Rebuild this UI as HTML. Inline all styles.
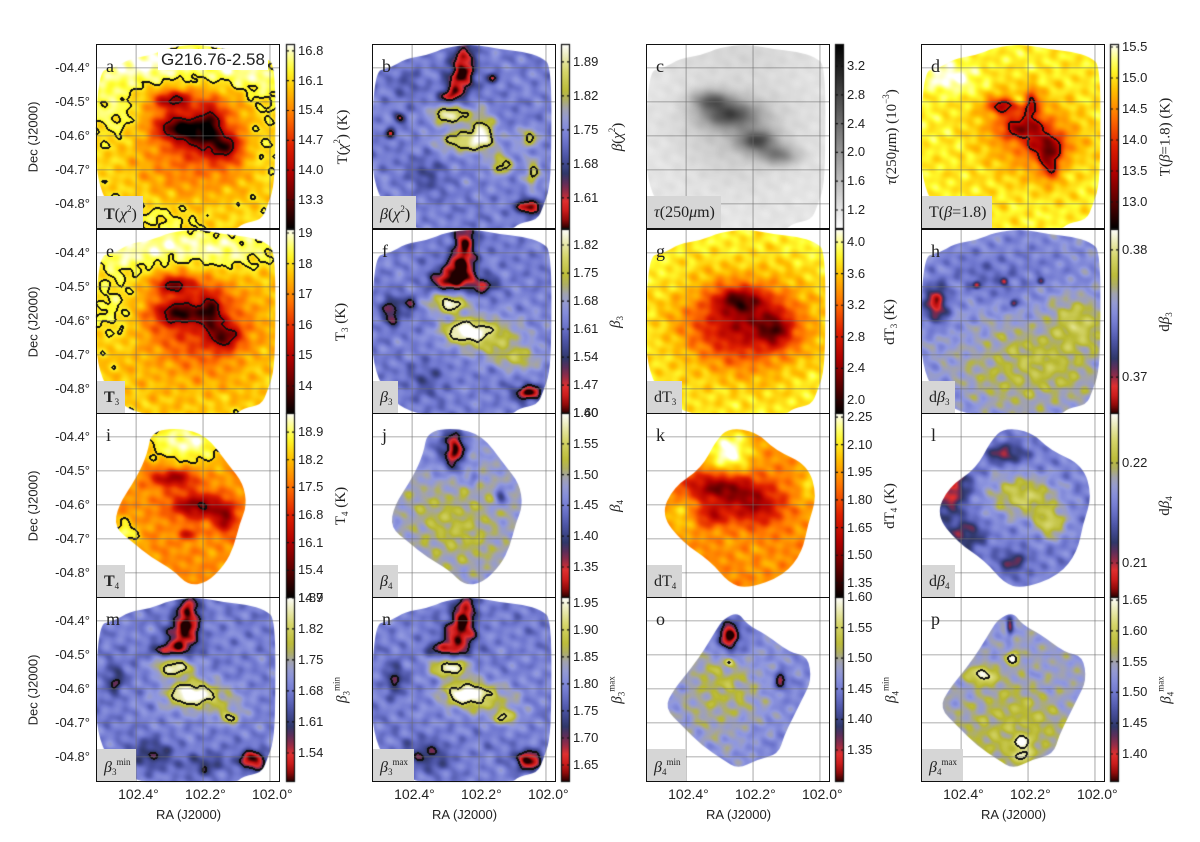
<!DOCTYPE html>
<html><head><meta charset="utf-8">
<style>
html,body{margin:0;padding:0;background:#fff;}
#root{position:relative;width:1200px;height:842px;overflow:hidden;background:#fff;font-family:"Liberation Sans",sans-serif;color:#222;}
canvas{position:absolute;left:0;top:0;}
.t{position:absolute;white-space:nowrap;line-height:1;}
.tick{font-size:13px;}
.cbt{font-size:13px;}
.cbl{font-family:"Liberation Serif",serif;font-size:15px;transform:translate(-50%,-50%) rotate(-90deg);}
.frame{position:absolute;border:1.5px solid #111;box-sizing:border-box;}
.lbox{position:absolute;background:#d6d6d6;font-family:"Liberation Serif",serif;font-size:16px;padding:8px 6px 0 7px;box-sizing:border-box;height:32px;}
.letter{position:absolute;font-family:"Liberation Serif",serif;font-size:18px;}
.sup{font-size:9px;vertical-align:7px;}
.sub{font-size:9px;vertical-align:-3px;}
</style></head>
<body>
<div id="root">
<canvas id="cv" width="1200" height="842"></canvas>
<svg id="ov" width="1200" height="842" style="position:absolute;left:0;top:0"></svg>
<div class="t" style="left:158px;top:49px;font-size:17px;background:#fff;padding:2px 3px;">G216.76-2.58</div>
</div>
<script>
const PW=184, PH=185;
const lefts=[96,372,646,921];
const tops=[44,229,413,597];
const cbLefts=[286,561,835,1110];
const decTicks=["-04.4°","-04.5°","-04.6°","-04.7°","-04.8°"];
const decVals=[-4.4,-4.5,-4.6,-4.7,-4.8];
const raTicks=["102.4°","102.2°","102.0°"];
const raVals=[102.4,102.2,102.0];
const raMax=102.52, raMin=101.97, decTop=-4.33, decBot=-4.874;

const blobsA=[[0.3,0.1,0.35,0.12,0.2],[0.75,0.15,0.25,0.12,0.15],[0.1,0.35,0.15,0.2,0.12],[0.9,0.45,0.1,0.3,0.1],[0.35,0.95,0.3,0.1,0.08],[0.55,0.5,0.3,0.28,-0.3],[0.42,0.3,0.1,0.05,-0.45],[0.45,0.45,0.12,0.06,-0.5],[0.62,0.42,0.06,0.1,-0.4],[0.7,0.55,0.08,0.07,-0.45],[0.55,0.5,0.1,0.08,-0.25]];
const blobsB=[[0.5,0.08,0.06,0.1,-0.4],[0.47,0.2,0.07,0.08,-0.4],[0.42,0.28,0.06,0.04,-0.35],[0.42,0.38,0.1,0.05,0.45],[0.5,0.52,0.13,0.06,0.4],[0.6,0.47,0.06,0.1,0.35],[0.7,0.65,0.06,0.06,0.35],[0.85,0.5,0.06,0.05,0.3],[0.87,0.7,0.04,0.08,0.3],[0.85,0.88,0.07,0.04,-0.5],[0.15,0.4,0.03,0.03,-0.3],[0.1,0.48,0.03,0.03,-0.3],[0.65,0.18,0.03,0.03,-0.3],[0.3,0.7,0.1,0.1,-0.12],[0.2,0.2,0.08,0.08,-0.1]];
const blobsC=[[0.45,0.38,0.15,0.07,0.5],[0.35,0.3,0.1,0.05,0.4],[0.6,0.52,0.1,0.06,0.5],[0.72,0.6,0.1,0.05,0.35],[0.5,0.45,0.3,0.25,0.15],[0.5,0.05,0.5,0.1,0.05]];
const blobsD=[[0.6,0.5,0.3,0.25,-0.2],[0.45,0.33,0.1,0.05,-0.45],[0.55,0.45,0.12,0.06,-0.45],[0.68,0.55,0.1,0.07,-0.45],[0.7,0.65,0.05,0.08,-0.4],[0.6,0.32,0.04,0.08,-0.35],[0.52,0.3,0.04,0.03,0.3],[0.15,0.18,0.15,0.08,0.15]];
const blobsE=[[0.3,0.1,0.35,0.12,0.2],[0.75,0.12,0.25,0.12,0.15],[0.1,0.4,0.12,0.2,0.12],[0.55,0.5,0.3,0.28,-0.3],[0.42,0.3,0.1,0.05,-0.45],[0.45,0.45,0.12,0.06,-0.5],[0.62,0.45,0.06,0.1,-0.4],[0.7,0.58,0.08,0.07,-0.45]];
const blobsF=[[0.5,0.08,0.06,0.12,-0.45],[0.47,0.22,0.08,0.08,-0.45],[0.4,0.28,0.1,0.05,-0.35],[0.6,0.3,0.08,0.05,-0.3],[0.42,0.4,0.1,0.05,0.45],[0.5,0.55,0.12,0.06,0.45],[0.65,0.58,0.2,0.12,0.25],[0.8,0.7,0.12,0.06,0.2],[0.85,0.88,0.07,0.04,-0.5],[0.1,0.45,0.05,0.08,-0.3],[0.2,0.4,0.04,0.04,-0.25],[0.3,0.8,0.1,0.1,-0.12]];
const blobsG=[[0.5,0.55,0.4,0.35,-0.15],[0.55,0.5,0.3,0.2,-0.45],[0.5,0.38,0.12,0.06,-0.35],[0.7,0.55,0.08,0.08,-0.3]];
const blobsH=[[0.6,0.75,0.4,0.25,0.2],[0.85,0.5,0.15,0.15,0.2],[0.4,0.25,0.3,0.15,-0.1],[0.08,0.4,0.06,0.1,-0.45],[0.45,0.28,0.02,0.02,-0.3],[0.65,0.28,0.02,0.02,-0.3],[0.3,0.3,0.02,0.02,-0.3],[0.5,0.4,0.02,0.02,-0.3]];
const blobsI=[[0.5,0.15,0.25,0.12,0.3],[0.15,0.65,0.08,0.08,0.25],[0.42,0.35,0.12,0.05,-0.4],[0.55,0.5,0.15,0.07,-0.45],[0.7,0.57,0.06,0.08,-0.35],[0.5,0.65,0.05,0.03,-0.3]];
const blobsJ=[[0.45,0.6,0.3,0.3,0.15],[0.45,0.2,0.05,0.1,-0.45],[0.4,0.2,0.1,0.12,-0.2],[0.7,0.45,0.03,0.05,-0.3],[0.55,0.35,0.03,0.04,-0.2]];
const blobsK=[[0.45,0.2,0.12,0.12,0.35],[0.4,0.4,0.2,0.08,-0.45],[0.6,0.5,0.15,0.1,-0.35],[0.35,0.55,0.1,0.06,-0.3],[0.2,0.55,0.08,0.1,0.15],[0.88,0.4,0.06,0.1,0.15]];
const blobsL=[[0.55,0.45,0.2,0.12,0.3],[0.7,0.6,0.08,0.08,0.3],[0.15,0.4,0.1,0.15,-0.4],[0.1,0.33,0.03,0.03,-0.4],[0.45,0.22,0.1,0.05,-0.3],[0.25,0.65,0.1,0.08,-0.25],[0.5,0.8,0.08,0.06,-0.25]];
const blobsM=[[0.5,0.08,0.06,0.1,-0.45],[0.47,0.2,0.08,0.08,-0.4],[0.4,0.28,0.1,0.04,-0.35],[0.42,0.38,0.1,0.05,0.45],[0.5,0.52,0.12,0.06,0.45],[0.6,0.55,0.2,0.1,0.2],[0.72,0.65,0.05,0.04,0.3],[0.85,0.88,0.07,0.05,-0.5],[0.1,0.45,0.05,0.08,-0.25],[0.3,0.85,0.12,0.08,-0.2],[0.6,0.9,0.1,0.06,-0.2]];
const blobsN=[[0.5,0.08,0.06,0.1,-0.45],[0.47,0.2,0.08,0.08,-0.4],[0.4,0.28,0.1,0.04,-0.35],[0.42,0.38,0.1,0.05,0.45],[0.5,0.52,0.12,0.06,0.45],[0.62,0.55,0.2,0.1,0.2],[0.72,0.65,0.06,0.04,0.3],[0.85,0.88,0.07,0.05,-0.5],[0.12,0.45,0.05,0.08,-0.25],[0.3,0.85,0.12,0.08,-0.2]];
const blobsO=[[0.4,0.5,0.25,0.3,0.2],[0.45,0.2,0.04,0.07,-0.45],[0.45,0.22,0.12,0.1,-0.2],[0.73,0.45,0.03,0.04,-0.4],[0.45,0.35,0.02,0.02,0.3]];
const blobsP=[[0.5,0.7,0.3,0.25,0.15],[0.33,0.42,0.07,0.04,0.35],[0.5,0.33,0.04,0.04,0.35],[0.55,0.78,0.05,0.03,0.3],[0.55,0.85,0.04,0.04,0.3],[0.48,0.15,0.02,0.05,-0.45]];

const ticksA=[16.8,16.1,15.4,14.7,14.0,13.3];
const ticksB=[1.89,1.82,1.75,1.68,1.61];
const ticksC=[3.2,2.8,2.4,2.0,1.6,1.2];
const ticksD=[15.5,15.0,14.5,14.0,13.5,13.0];
const ticksE=[19,18,17,16,15,14];
const ticksF=[1.82,1.75,1.68,1.61,1.54,1.47,1.40];
const ticksG=[4.0,3.6,3.2,2.8,2.4,2.0];
const ticksH=[0.38,0.37];
const ticksI=[18.9,18.2,17.5,16.8,16.1,15.4,14.7];
const ticksJ=[1.60,1.55,1.50,1.45,1.40,1.35];
const ticksK=[2.25,2.10,1.95,1.80,1.65,1.50,1.35];
const ticksL=[0.22,0.21];
const ticksM=[1.89,1.82,1.75,1.68,1.61,1.54];
const ticksN=[1.95,1.90,1.85,1.80,1.75,1.70,1.65];
const ticksO=[1.60,1.55,1.50,1.45,1.40,1.35];
const ticksP=[1.65,1.60,1.55,1.50,1.45,1.40];

const shapeBig=[[0,0.15],[0.1,0.13],[0.18,0.08],[0.3,0.06],[0.4,0.02],[0.55,0.0],[0.7,0.03],[0.82,0.04],[0.92,0.07],[0.975,0.12],[0.975,0.6],[0.965,0.78],[0.93,0.88],[0.9,0.95],[0.8,0.97],[0.75,1.01],[0,1.01]];
const shapeI=[[0.3,0.1],[0.45,0.08],[0.6,0.12],[0.72,0.28],[0.8,0.38],[0.82,0.5],[0.78,0.6],[0.75,0.72],[0.7,0.82],[0.6,0.92],[0.5,0.93],[0.42,0.85],[0.3,0.78],[0.2,0.7],[0.1,0.62],[0.12,0.5],[0.22,0.35],[0.28,0.22]];
const shapeK=[[0.45,0.08],[0.6,0.1],[0.7,0.2],[0.88,0.28],[0.93,0.45],[0.88,0.6],[0.85,0.75],[0.75,0.88],[0.55,0.95],[0.45,0.92],[0.35,0.8],[0.2,0.7],[0.08,0.55],[0.15,0.4],[0.3,0.3],[0.38,0.15]];
const shapeO=[[0.42,0.12],[0.5,0.08],[0.55,0.15],[0.65,0.2],[0.78,0.3],[0.88,0.32],[0.9,0.45],[0.85,0.55],[0.8,0.65],[0.75,0.75],[0.72,0.85],[0.6,0.88],[0.5,0.93],[0.42,0.88],[0.3,0.8],[0.2,0.7],[0.1,0.6],[0.15,0.5],[0.25,0.38],[0.32,0.28],[0.38,0.18]];

const heat=[[0,"#000000"],[0.15,"#5a0000"],[0.3,"#b00000"],[0.45,"#e02000"],[0.6,"#ff7000"],[0.75,"#ffc000"],[0.87,"#ffff30"],[1,"#ffffff"]];
const betaMap=[[0,"#200000"],[0.07,"#c01010"],[0.15,"#e03030"],[0.22,"#7a2a50"],[0.3,"#30386a"],[0.38,"#4850a0"],[0.48,"#7078d0"],[0.58,"#9098e0"],[0.66,"#a4a4a8"],[0.73,"#b8b830"],[0.86,"#d8d870"],[1,"#ffffff"]];
const grayMap=[[0,"#ffffff"],[1,"#000000"]];

const panels=[
 {id:"a",r:0,c:0,cm:heat,base:0.79,blobs:blobsA,shape:shapeBig,lev:[0.84,0.27],ticks:ticksA,dp:1,vmax:16.96,vmin:12.62,lab:'T(<i>χ</i><span class="sup">2</span>) (K)',box:'<b>T</b>(<i>χ</i><span class="sup">2</span>)'},
 {id:"b",r:0,c:1,cm:betaMap,base:0.5,blobs:blobsB,shape:shapeBig,lev:[0.22,0.78],ticks:ticksB,dp:2,vmax:1.927,vmin:1.546,lab:'<i>β</i>(<i>χ</i><span class="sup">2</span>)',box:'<i>β</i>(<i>χ</i><span class="sup">2</span>)'},
 {id:"c",r:0,c:2,cm:grayMap,base:0.1,blobs:blobsC,shape:shapeBig,lev:[],ticks:ticksC,dp:1,vmax:3.506,vmin:0.936,lab:'<i>τ</i>(250<i>μ</i>m) (10<span class="sup">−3</span>)',box:'<i>τ</i>(250<i>μ</i>m)'},
 {id:"d",r:0,c:3,cm:heat,base:0.85,blobs:blobsD,shape:shapeBig,lev:[0.4],ticks:ticksD,dp:1,vmax:15.548,vmin:12.565,lab:'T(<i>β</i>=1.8) (K)',box:'T(<i>β</i>=1.8)'},
 {id:"e",r:1,c:0,cm:heat,base:0.78,blobs:blobsE,shape:shapeBig,lev:[0.85,0.27],ticks:ticksE,dp:0,vmax:19.13,vmin:13.085,lab:'T<span class="sub">3</span> (K)',box:'<b>T</b><span class="sub">3</span>'},
 {id:"f",r:1,c:1,cm:betaMap,base:0.5,blobs:blobsF,shape:shapeBig,lev:[0.28,0.88],ticks:ticksF,dp:2,vmax:1.86,vmin:1.398,lab:'<i>β</i><span class="sub">3</span>',box:'<i>β</i><span class="sub">3</span>'},
 {id:"g",r:1,c:2,cm:heat,base:0.86,blobs:blobsG,shape:shapeBig,lev:[],ticks:ticksG,dp:1,vmax:4.165,vmin:1.823,lab:'dT<span class="sub">3</span> (K)',box:'dT<span class="sub">3</span>'},
 {id:"h",r:1,c:3,cm:betaMap,base:0.55,blobs:blobsH,shape:shapeBig,lev:[],ticks:ticksH,dp:2,vmax:0.38165,vmin:0.36709,lab:'d<i>β</i><span class="sub">3</span>',box:'d<i>β</i><span class="sub">3</span>'},
 {id:"i",r:2,c:0,cm:heat,base:0.66,blobs:blobsI,shape:shapeI,lev:[0.8,0.2],ticks:ticksI,dp:1,vmax:19.384,vmin:14.7,lab:'T<span class="sub">4</span> (K)',box:'<b>T</b><span class="sub">4</span>'},
 {id:"j",r:2,c:1,cm:betaMap,base:0.58,blobs:blobsJ,shape:shapeI,lev:[0.28,0.9],ticks:ticksJ,dp:2,vmax:1.6,vmin:1.2997,lab:'<i>β</i><span class="sub">4</span>',box:'<i>β</i><span class="sub">4</span>'},
 {id:"k",r:2,c:2,cm:heat,base:0.66,blobs:blobsK,shape:shapeK,lev:[],ticks:ticksK,dp:2,vmax:2.272,vmin:1.268,lab:'dT<span class="sub">4</span> (K)',box:'dT<span class="sub">4</span>'},
 {id:"l",r:2,c:3,cm:betaMap,base:0.5,blobs:blobsL,shape:shapeK,lev:[],ticks:ticksL,dp:2,vmax:0.225,vmin:0.2065,lab:'d<i>β</i><span class="sub">4</span>',box:'d<i>β</i><span class="sub">4</span>'},
 {id:"m",r:3,c:0,cm:betaMap,base:0.5,blobs:blobsM,shape:shapeBig,lev:[0.28,0.85],ticks:ticksM,dp:2,vmax:1.892,vmin:1.4745,lab:'<i>β</i><span class="sub">3</span><span class="sup">min</span>',box:'<i>β</i><span class="sub">3</span><span class="sup">min</span>'},
 {id:"n",r:3,c:1,cm:betaMap,base:0.5,blobs:blobsN,shape:shapeBig,lev:[0.28,0.85],ticks:ticksN,dp:2,vmax:1.961,vmin:1.6185,lab:'<i>β</i><span class="sub">3</span><span class="sup">max</span>',box:'<i>β</i><span class="sub">3</span><span class="sup">max</span>'},
 {id:"o",r:3,c:2,cm:betaMap,base:0.52,blobs:blobsO,shape:shapeO,lev:[0.3,0.95],ticks:ticksO,dp:2,vmax:1.6,vmin:1.2977,lab:'<i>β</i><span class="sub">4</span><span class="sup">min</span>',box:'<i>β</i><span class="sub">4</span><span class="sup">min</span>'},
 {id:"p",r:3,c:3,cm:betaMap,base:0.6,blobs:blobsP,shape:shapeO,lev:[0.9],ticks:ticksP,dp:2,vmax:1.655,vmin:1.3545,lab:'<i>β</i><span class="sub">4</span><span class="sup">max</span>',box:'<i>β</i><span class="sub">4</span><span class="sup">max</span>'}
];

function hex(h){return [parseInt(h.substr(1,2),16),parseInt(h.substr(3,2),16),parseInt(h.substr(5,2),16)];}
function cmap(stops,v){
  v=Math.max(0,Math.min(1,v));
  for(let i=1;i<stops.length;i++){
    if(v<=stops[i][0]){
      const a=hex(stops[i-1][1]),b=hex(stops[i][1]);
      const t=(v-stops[i-1][0])/(stops[i][0]-stops[i-1][0]);
      return [a[0]+(b[0]-a[0])*t,a[1]+(b[1]-a[1])*t,a[2]+(b[2]-a[2])*t];
    }
  }
  return hex(stops[stops.length-1][1]);
}
function xScale(ra){return (raMax-ra)/(raMax-raMin)*PW;}
function yScale(dec){return (decTop-dec)/(decTop-decBot)*PH;}

const cv=document.getElementById('cv');
const ctx=cv.getContext('2d');
const root=document.getElementById('root');
const ov=document.getElementById('ov');
const NS="http://www.w3.org/2000/svg";

function texture(x,y,s){
  return 0.30*Math.sin(x*0.23+s)*Math.sin(y*0.2+s*1.3)
   +0.22*Math.sin(x*0.31-y*0.27+s*2.1)
   +0.18*Math.sin(x*0.13+y*0.37+s*0.7)
   +0.16*Math.sin(x*0.47+y*0.11+s*3.3)
   +0.14*Math.sin(-x*0.19+y*0.53+s*1.9)
   +0.12*Math.sin(x*0.07-y*0.09+s*4.1);
}

panels.forEach((p,pi)=>{
  const L=lefts[p.c],T=tops[p.r];
  const off=document.createElement('canvas');off.width=PW;off.height=PH;
  const octx=off.getContext('2d');
  const img=octx.createImageData(PW,PH);
  const F=new Float32Array(PW*PH);
  const amp=p.cm===grayMap?0.03:(p.cm===heat?0.1:0.12);
  for(let y=0;y<PH;y++)for(let x=0;x<PW;x++){
    let v=p.base;const nx=x/PW,ny=y/PH;
    for(const b of p.blobs){const dx=(nx-b[0])/b[2],dy=(ny-b[1])/b[3];v+=b[4]*Math.exp(-(dx*dx+dy*dy));}
    v+=amp*texture(x,y,pi*1.7);
    F[y*PW+x]=v;
  }
  for(let y=0;y<PH;y++)for(let x=0;x<PW;x++){
    const i=y*PW+x;let col=cmap(p.cm,F[i]);
    let line=false;
    for(const lv of p.lev){
      const a=F[i]-lv;
      if(x<PW-1&&a*(F[i+1]-lv)<0)line=true;
      if(y<PH-1&&a*(F[i+PW]-lv)<0)line=true;
      if(x>0&&a*(F[i-1]-lv)<0)line=true;
      if(y>0&&a*(F[i-PW]-lv)<0)line=true;
    }
    if(line)col=[15,15,15];
    img.data[i*4]=col[0];img.data[i*4+1]=col[1];img.data[i*4+2]=col[2];img.data[i*4+3]=255;
  }
  octx.putImageData(img,0,0);
  ctx.save();
  ctx.beginPath();
  const pts=p.shape.map(q=>[L+q[0]*PW,T+q[1]*PH]);
  const n=pts.length;
  let m0=[(pts[n-1][0]+pts[0][0])/2,(pts[n-1][1]+pts[0][1])/2];
  ctx.moveTo(m0[0],m0[1]);
  for(let k=0;k<n;k++){const a=pts[k],b=pts[(k+1)%n];ctx.quadraticCurveTo(a[0],a[1],(a[0]+b[0])/2,(a[1]+b[1])/2);}
  ctx.closePath();ctx.clip();
  ctx.drawImage(off,L,T);
  ctx.restore();

  raVals.forEach(ra=>{
    const ln=document.createElementNS(NS,'line');
    
    
    const gx=L+xScale(ra);
    ln.setAttribute('x1',gx);ln.setAttribute('x2',gx);ln.setAttribute('y1',T);ln.setAttribute('y2',T+PH);
    ln.setAttribute('stroke','rgba(110,110,110,0.5)');ln.setAttribute('stroke-width','1.2');
    ov.appendChild(ln);
  });
  decVals.forEach(d=>{
    const ln=document.createElementNS(NS,'line');
    
    
    const gy=T+yScale(d);
    ln.setAttribute('x1',L);ln.setAttribute('x2',L+PW);ln.setAttribute('y1',gy);ln.setAttribute('y2',gy);
    ln.setAttribute('stroke','rgba(110,110,110,0.5)');ln.setAttribute('stroke-width','1.2');
    ov.appendChild(ln);
  });

  const fr=document.createElement('div');
  fr.className='frame';
  
  
  fr.style.left=L+'px';fr.style.top=T+'px';fr.style.width=PW+'px';fr.style.height=PH+'px';
  root.appendChild(fr);

  const le=document.createElement('div');
  le.className='letter';
  
  
  le.style.left=(L+10)+'px';le.style.top=(T+12)+'px';
  le.textContent=p.id;
  root.appendChild(le);

  const bx=document.createElement('div');
  bx.className='lbox';
  
  
  bx.style.left=(L+1)+'px';bx.style.top=(T+PH-33)+'px';
  bx.innerHTML=p.box;
  root.appendChild(bx);

  const CL=cbLefts[p.c];
  const g=ctx.createLinearGradient(0,T+PH,0,T);
  for(let s=0;s<=20;s++){const c=cmap(p.cm,s/20);g.addColorStop(s/20,'rgb('+c.map(Math.round).join(',')+')');}
  ctx.fillStyle=g;ctx.fillRect(CL,T,8,PH);
  ctx.strokeStyle='#111';ctx.lineWidth=1.2;ctx.strokeRect(CL+0.5,T+0.5,8,PH-1);
  p.ticks.forEach(tv=>{
    const ty=T+(p.vmax-tv)/(p.vmax-p.vmin)*PH;
    ctx.beginPath();ctx.moveTo(CL,ty);ctx.lineTo(CL+3,ty);ctx.moveTo(CL+6,ty);ctx.lineTo(CL+9,ty);ctx.stroke();
    const tl=document.createElement('div');
    tl.className='t cbt';
    
    
    tl.style.left=(CL+12)+'px';tl.style.top=(ty-7)+'px';
    tl.textContent=tv.toFixed(p.dp);
    root.appendChild(tl);
  });
  const cl=document.createElement('div');
  cl.className='t cbl';
  
  
  cl.style.left=(CL+56)+'px';cl.style.top=(T+PH/2)+'px';
  cl.innerHTML=p.lab;
  root.appendChild(cl);
});

tops.forEach(T=>{
  decVals.forEach((d,k)=>{
    const el=document.createElement('div');
    el.className='t tick';
    
    
    el.style.left='46px';el.style.width='44px';el.style.textAlign='right';
    el.style.top=(T+yScale(d)-7)+'px';
    el.textContent=decTicks[k];
    root.appendChild(el);
  });
  const yl=document.createElement('div');
  yl.className='t';
  
  
  yl.style.fontSize='13px';yl.style.left='33px';yl.style.top=(T+PH/2)+'px';
  yl.style.transform='translate(-50%,-50%) rotate(-90deg)';
  yl.textContent='Dec (J2000)';
  root.appendChild(yl);
});
lefts.forEach(L=>{
  raVals.forEach((ra,k)=>{
    const el=document.createElement('div');
    el.className='t tick';
    
    
    el.style.left=(L+xScale(ra)-18)+'px';el.style.top='787px';
    el.style.fontSize='14px';
    el.textContent=raTicks[k];
    root.appendChild(el);
  });
  const xl=document.createElement('div');
  xl.className='t';
  
  
  xl.style.fontSize='13px';xl.style.left=(L+PW/2-32)+'px';xl.style.top='808px';
  xl.textContent='RA (J2000)';
  root.appendChild(xl);
});
</script>
</body></html>
